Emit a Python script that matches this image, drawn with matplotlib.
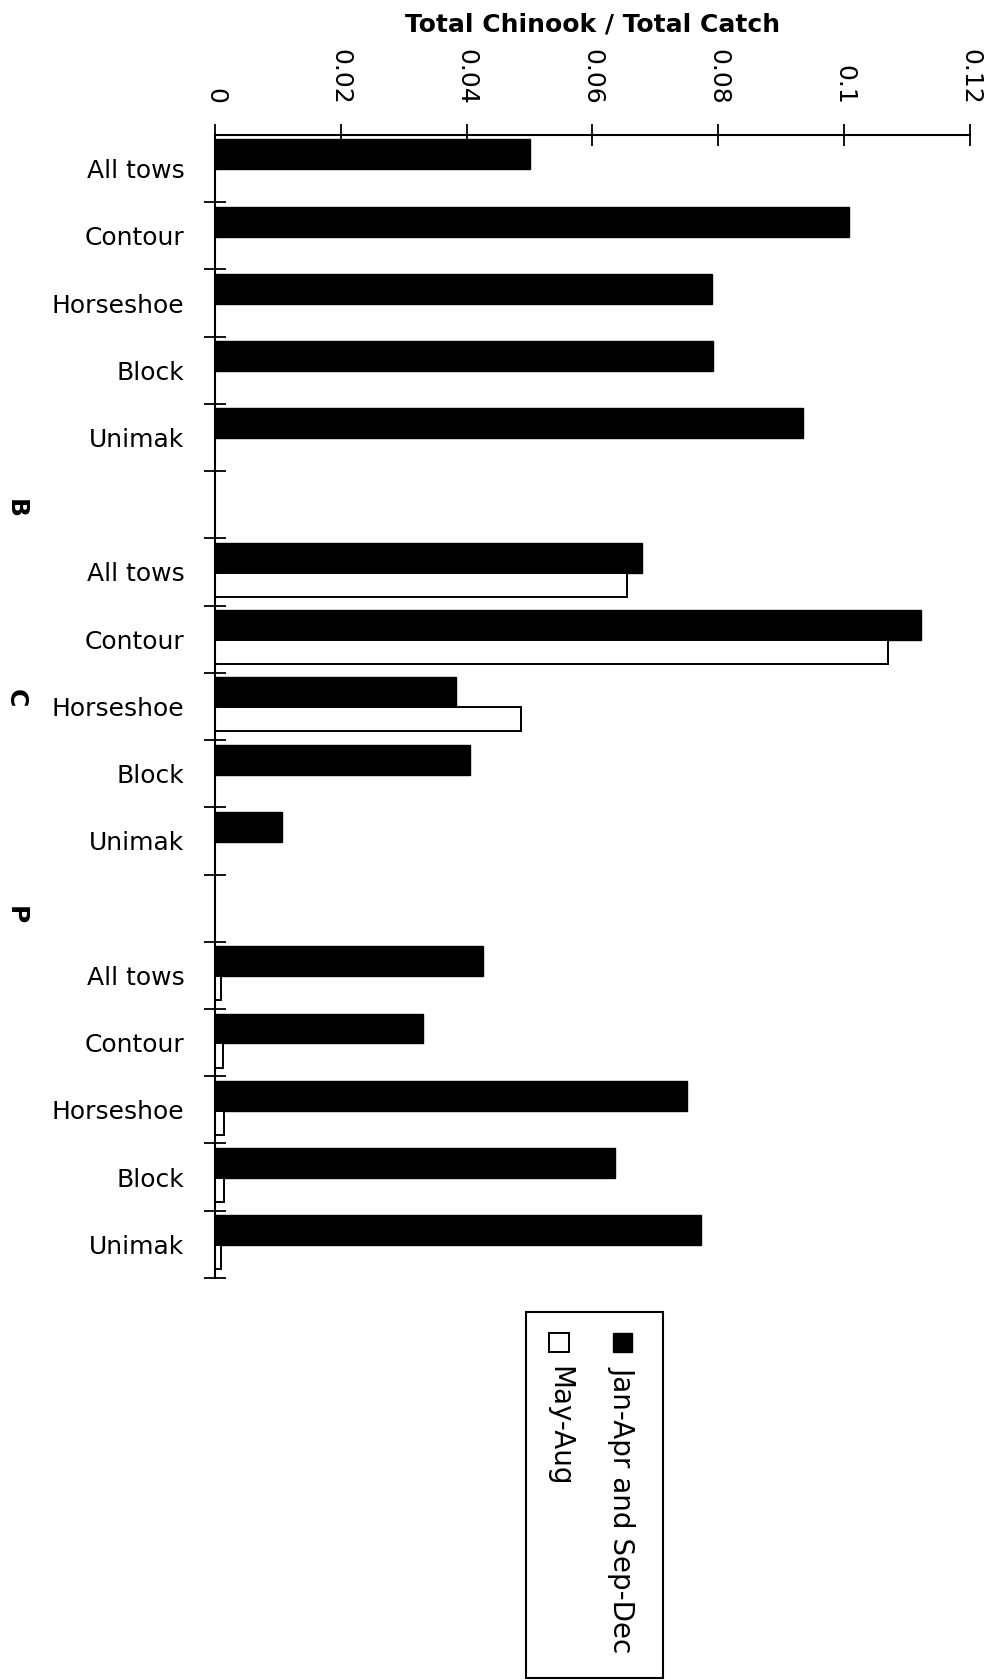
import numpy as np
import matplotlib.pyplot as plt
from matplotlib.patches import Rectangle
from matplotlib.transforms import blended_transform_factory

plt.rcParams['font.family'] = 'DejaVu Sans'

# Three groups of five tow types, one empty slot between groups
tow_types = ['All tows', 'Contour', 'Horseshoe', 'Block', 'Unimak']
groups = ['B', 'C', 'P']
series_names = ['Jan-Apr and Sep-Dec', 'May-Aug']

# Total Chinook / Total Catch
jan_apr_sep_dec = [0.0500, 0.1007, 0.0790, 0.0792, 0.0935,   # B
                   0.0678, 0.1122, 0.0383, 0.0406, 0.0106,   # C
                   0.0426, 0.0331, 0.0750, 0.0636, 0.0772]   # P
may_aug = [0.0, 0.0, 0.0, 0.0, 0.0,
           0.0655, 0.1069, 0.0487, 0.0, 0.0,
           0.0010, 0.0012, 0.0014, 0.0015, 0.0009]
x_ticks = [0, 0.02, 0.04, 0.06, 0.08, 0.1, 0.12]
x_ticklabels = ['0', '0.02', '0.04', '0.06', '0.08', '0.1', '0.12']

# layout
n_slots = 17
rows = np.array([g * 6 + i for g in range(len(groups)) for i in range(len(tow_types))])
labels = tow_types * len(groups)
group_label_y = [5.56, 8.37, 11.6]

fig = plt.figure(figsize=(9.87, 16.8), dpi=100)
ax = fig.add_axes([0.2178, 0.2393, 0.765, 0.6804])

ax.barh(rows + 0.29, jan_apr_sep_dec, height=0.445, color='black',
        edgecolor='black', linewidth=1.0)
ax.barh(rows + 0.69, may_aug, height=0.36, color='white',
        edgecolor='black', linewidth=1.4)

ax.set_xlim(0, 0.12)
ax.set_ylim(n_slots, 0)

# x axis on top, labels rotated
ax.xaxis.tick_top()
ax.xaxis.set_label_position('top')
ax.set_xticks(x_ticks)
ax.set_xticklabels(x_ticklabels, rotation=270, fontsize=18)
ax.tick_params(axis='x', direction='inout', length=16, width=1.3, pad=14)
ax.set_xlabel('Total Chinook / Total Catch', fontsize=18, fontweight='heavy',
              labelpad=12)

# category labels at slot centres, ticks at slot boundaries
ax.set_yticks(rows + 0.5)
ax.set_yticklabels(labels, fontsize=18)
ax.tick_params(axis='y', which='major', length=0, pad=22)
ax.set_yticks(np.arange(1, n_slots + 1), minor=True)
ax.tick_params(axis='y', which='minor', direction='inout', length=16, width=1.3)

for side in ['right', 'bottom']:
    ax.spines[side].set_visible(False)
for side in ['left', 'top']:
    ax.spines[side].set_linewidth(1.5)

# group letters
trans = blended_transform_factory(fig.transFigure, ax.transData)
for g, yy in zip(groups, group_label_y):
    ax.text(0.016, yy, g, transform=trans, rotation=270, fontsize=18,
            fontweight='bold', ha='center', va='center')

# rotated legend drawn by hand
fig.patches.append(Rectangle((0.533, 0.001), 0.139, 0.218, transform=fig.transFigure,
                             facecolor='white', edgecolor='black', linewidth=1.5))
fig.patches.append(Rectangle((0.6214, 0.195), 0.0193, 0.0113, transform=fig.transFigure,
                             facecolor='black', edgecolor='black', linewidth=1.0))
fig.patches.append(Rectangle((0.5567, 0.195), 0.0193, 0.0113, transform=fig.transFigure,
                             facecolor='white', edgecolor='black', linewidth=1.4))
fig.text(0.631, 0.187, series_names[0], rotation=270, fontsize=20,
         ha='center', va='top')
fig.text(0.5664, 0.187, series_names[1], rotation=270, fontsize=20,
         ha='center', va='top')

fig.savefig('out.png', dpi=100)
